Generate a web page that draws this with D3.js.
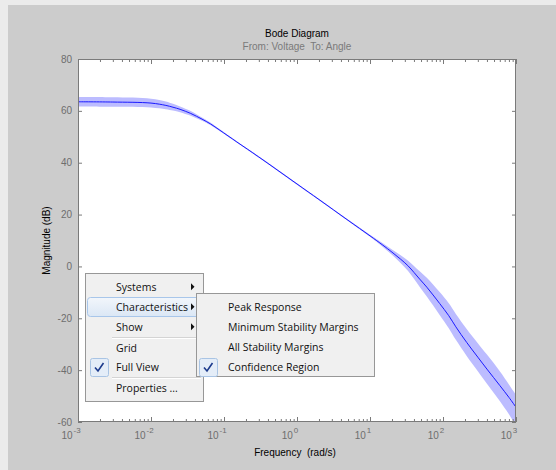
<!DOCTYPE html>
<html>
<head>
<meta charset="utf-8">
<script src="https://cdn.jsdelivr.net/npm/d3@7"></script>
<style>
  body { margin: 0; background: #ebebeb; }
  svg text { font-family: "Liberation Sans", Arial, sans-serif; }
  .menu text { font-family: "Open Sans", "Noto Sans", sans-serif; font-size: 10.5px; fill: #111; }
</style>
</head>
<body>
<svg id="chart" width="556" height="470"></svg>
<script>
// data
const freq  = [0.001, 0.003, 0.01, 0.016, 0.02, 0.025, 0.035, 0.05, 0.065, 0.088, 0.15, 0.3, 1, 2, 5, 10, 15, 20, 26, 33, 40, 48, 60, 73, 90, 120, 150, 211, 300, 400, 603, 800, 1000];
const mag   = [63.5, 63.4, 63.0, 62.1, 61.4, 60.6, 59.0, 56.8, 55.0, 52.5, 48.0, 42.2, 31.8, 25.8, 17.8, 11.8, 8.2, 5.5, 2.9, 0.3, -2.3, -4.9, -8.0, -11.0, -14.3, -19.0, -23.3, -29.3, -35.0, -39.6, -46.0, -50.5, -54.3];
const upper = [65.3, 65.2, 64.7, 63.6, 62.7, 61.7, 59.9, 57.4, 55.5, 52.9, 48.3, 42.5, 32.1, 26.1, 18.1, 12.2, 8.9, 6.5, 4.4, 2.3, 0.2, -1.9, -4.4, -7.0, -9.9, -14.2, -18.3, -24.1, -29.6, -34.0, -40.5, -45.5, -49.5];
const lower = [61.7, 61.6, 61.3, 60.6, 60.1, 59.5, 58.1, 56.2, 54.5, 52.1, 47.7, 41.9, 31.5, 25.5, 17.5, 11.4, 7.5, 4.5, 1.4, -1.7, -4.8, -7.9, -11.6, -15.0, -18.7, -23.8, -28.3, -34.5, -40.4, -45.2, -52.0, -57.0, -61.5];

const xMajor = [-3, -2, -1, 0, 1, 2, 3];
const yTicks = [-60, -40, -20, 0, 20, 40, 60, 80];

const mainItems = ["Systems", "Characteristics", "Show", "Grid", "Full View", "Properties ..."];
const subItems  = ["Peak Response", "Minimum Stability Margins", "All Stability Margins", "Confidence Region"];

const svg = d3.select("#chart");
const L = 78, R = 516, T = 59, B = 422;

// figure background
svg.append("rect").attr("x", 8).attr("y", 5).attr("width", 548).attr("height", 465).attr("fill", "#cccccc");

const x = d3.scaleLog().domain([1e-3, 1e3]).range([L, R]);
const y = d3.scaleLinear().domain([-60, 80]).range([B, T]);

svg.append("rect").attr("x", L).attr("y", T).attr("width", R - L).attr("height", B - T).attr("fill", "#fff");

svg.append("clipPath").attr("id", "clip")
  .append("rect").attr("x", L).attr("y", T).attr("width", R - L).attr("height", B - T);

const pts = freq.map((f, i) => ({ f, m: mag[i], hi: upper[i], lo: lower[i] }));

const area = d3.area()
  .x(d => x(d.f)).y0(d => y(d.lo)).y1(d => y(d.hi))
  .curve(d3.curveCatmullRom.alpha(0.5));
const line = d3.line()
  .x(d => x(d.f)).y(d => y(d.m))
  .curve(d3.curveCatmullRom.alpha(0.5));

const g = svg.append("g").attr("clip-path", "url(#clip)");
g.append("path").datum(pts).attr("d", area).attr("fill", "#bcbcff");
g.append("path").datum(pts).attr("d", line).attr("fill", "none").attr("stroke", "#1a1aff").attr("stroke-width", 1);

// axes: ticks inward on all four sides
const minor = [];
xMajor.slice(0, -1).forEach(e => { for (let k = 2; k < 10; k++) minor.push(k * Math.pow(10, e)); });
const majorVals = xMajor.map(e => Math.pow(10, e));

const axisCol = "#7a7a7a";
function styleAxis(sel) {
  sel.selectAll("text").remove();
  sel.select(".domain").remove();
  sel.selectAll("line").attr("stroke", axisCol);
}
svg.append("g").attr("transform", `translate(0,${B})`)
  .call(d3.axisBottom(x).tickValues(majorVals).tickSize(-5)).call(styleAxis);
svg.append("g").attr("transform", `translate(0,${B})`)
  .call(d3.axisBottom(x).tickValues(minor).tickSize(-3)).call(styleAxis);
svg.append("g").attr("transform", `translate(0,${T})`)
  .call(d3.axisTop(x).tickValues(majorVals).tickSize(-5)).call(styleAxis);
svg.append("g").attr("transform", `translate(0,${T})`)
  .call(d3.axisTop(x).tickValues(minor).tickSize(-3)).call(styleAxis);
svg.append("g").attr("transform", `translate(${L},0)`)
  .call(d3.axisLeft(y).tickValues(yTicks).tickSize(-4)).call(styleAxis);
svg.append("g").attr("transform", `translate(${R},0)`)
  .call(d3.axisRight(y).tickValues(yTicks).tickSize(-4)).call(styleAxis);

svg.append("rect").attr("x", L + 0.5).attr("y", T + 0.5).attr("width", R - L - 1).attr("height", B - T - 1)
  .attr("fill", "none").attr("stroke", axisCol);

// tick labels
const lab = "#6e6e6e";
yTicks.forEach(v => {
  svg.append("text").attr("x", 72).attr("y", y(v) + 3.5).attr("text-anchor", "end")
    .attr("font-size", 10).attr("fill", lab).text(v);
});
xMajor.forEach(e => {
  const t = svg.append("text").attr("x", x(Math.pow(10, e)) - 7).attr("y", 439)
    .attr("text-anchor", "middle").attr("font-size", 10).attr("fill", lab);
  t.append("tspan").text("10");
  t.append("tspan").attr("dx", 1).attr("dy", -6).attr("font-size", 8).text(e);
});

// titles
svg.append("text").attr("x", (L + R) / 2).attr("y", 37).attr("text-anchor", "middle")
  .attr("font-size", 10).attr("fill", "#000").text("Bode Diagram");
svg.append("text").attr("x", (L + R) / 2).attr("y", 50).attr("text-anchor", "middle")
  .attr("font-size", 10).attr("fill", "#7a7a7a").attr("xml:space", "preserve").text("From: Voltage  To: Angle");
svg.append("text").attr("transform", `translate(50,${(T + B) / 2}) rotate(-90)`)
  .attr("text-anchor", "middle").attr("font-size", 10).attr("fill", "#000").text("Magnitude (dB)");
svg.append("text").attr("x", 295).attr("y", 456).attr("text-anchor", "middle")
  .attr("font-size", 10).attr("fill", "#000").attr("xml:space", "preserve").text("Frequency  (rad/s)");

// context menu
const defs = svg.append("defs");
const grad = defs.append("linearGradient").attr("id", "hl").attr("x1", 0).attr("y1", 0).attr("x2", 0).attr("y2", 1);
grad.append("stop").attr("offset", "0%").attr("stop-color", "#f2f6fb");
grad.append("stop").attr("offset", "100%").attr("stop-color", "#dbe7f5");

const menu = svg.append("g").attr("class", "menu");

function checkBox(gp, bx, by) {
  gp.append("rect").attr("x", bx + 0.5).attr("y", by + 0.5).attr("width", 18).attr("height", 18).attr("rx", 2)
    .attr("fill", "#e4edf8").attr("stroke", "#a9c4e4");
  gp.append("path").attr("d", `M${bx + 5},${by + 9.5} L${bx + 8},${by + 13} L${bx + 13.5},${by + 5}`)
    .attr("fill", "none").attr("stroke", "#1c3a8c").attr("stroke-width", 1.6);
}

// main menu
const mainY = [286.7, 306.7, 326.7, 348.3, 367.3, 388.3];
menu.append("rect").attr("x", 85.5).attr("y", 273.5).attr("width", 118).attr("height", 128)
  .attr("fill", "#f0f0f0").attr("stroke", "#979797");
menu.append("rect").attr("x", 87.5).attr("y", 297.5).attr("width", 114).attr("height", 19).attr("rx", 3)
  .attr("fill", "url(#hl)").attr("stroke", "#a8c6ea");
[337, 377].forEach(sy => {
  menu.append("line").attr("x1", 112).attr("x2", 201).attr("y1", sy + 0.5).attr("y2", sy + 0.5).attr("stroke", "#d4d4d4");
  menu.append("line").attr("x1", 112).attr("x2", 201).attr("y1", sy + 1.5).attr("y2", sy + 1.5).attr("stroke", "#fff");
});
mainItems.forEach((t, i) => {
  menu.append("text").attr("x", 116).attr("y", mainY[i] + 4).text(t);
});
[0, 1, 2].forEach(i => {
  const cy = mainY[i];
  menu.append("path").attr("d", `M191,${cy - 3.5} L194.5,${cy} L191,${cy + 3.5} Z`).attr("fill", "#111");
});
checkBox(menu, 90, 358);

// submenu
const subY = [306.7, 326.7, 347.3, 366.7];
menu.append("rect").attr("x", 196.5).attr("y", 293.5).attr("width", 178).attr("height", 83)
  .attr("fill", "#f0f0f0").attr("stroke", "#979797");
subItems.forEach((t, i) => {
  menu.append("text").attr("x", 228).attr("y", subY[i] + 4).text(t);
});
checkBox(menu, 199, 358);
</script>
</body>
</html>
